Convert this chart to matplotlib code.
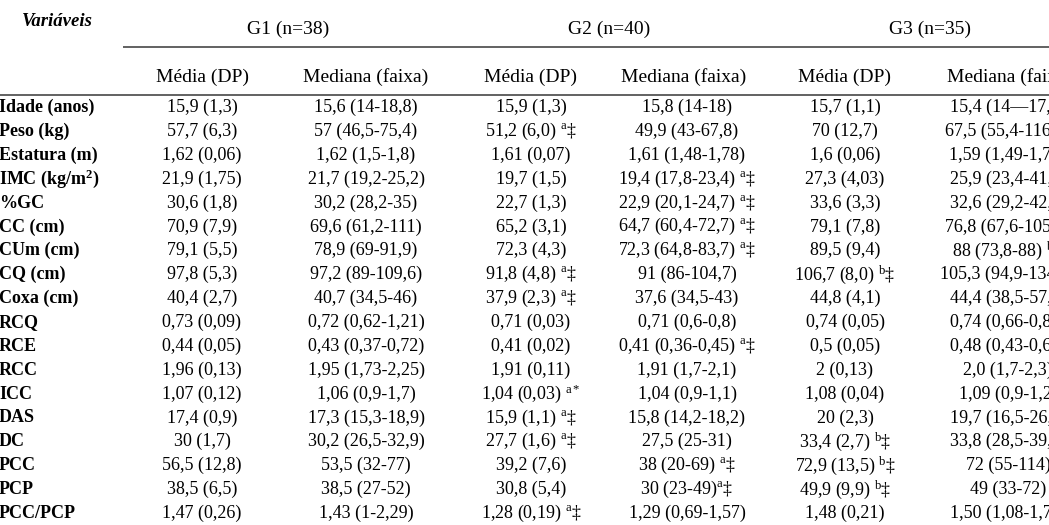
import matplotlib
matplotlib.use("Agg")
import matplotlib.pyplot as plt

plt.rcParams['font.family'] = ['Liberation Serif', 'DejaVu Serif']
plt.rcParams['mathtext.fontset'] = 'custom'
plt.rcParams['mathtext.rm'] = 'Liberation Serif'
plt.rcParams['mathtext.it'] = 'Liberation Serif:italic'
plt.rcParams['mathtext.bf'] = 'Liberation Serif:bold'

variables = ["Idade (anos)", "Peso (kg)", "Estatura (m)", r"IMC (kg/m$^{\mathbf{2}}$)", "%GC",
             "CC (cm)", "CUm (cm)", "CQ (cm)", "Coxa (cm)", "RCQ", "RCE", "RCC", "ICC",
             "DAS", "DC", "PCC", "PCP", "PCC/PCP"]

groups = ["G1 (n=38)", "G2 (n=40)", "G3 (n=35)"]
subheaders = ["Média (DP)", "Mediana (faixa)"]

g1_media = ["15,9 (1,3)", "57,7 (6,3)", "1,62 (0,06)", "21,9 (1,75)", "30,6 (1,8)", "70,9 (7,9)",
            "79,1 (5,5)", "97,8 (5,3)", "40,4 (2,7)", "0,73 (0,09)", "0,44 (0,05)", "1,96 (0,13)",
            "1,07 (0,12)", "17,4 (0,9)", "30 (1,7)", "56,5 (12,8)", "38,5 (6,5)", "1,47 (0,26)"]
g1_mediana = ["15,6 (14-18,8)", "57 (46,5-75,4)", "1,62 (1,5-1,8)", "21,7 (19,2-25,2)",
              "30,2 (28,2-35)", "69,6 (61,2-111)", "78,9 (69-91,9)", "97,2 (89-109,6)",
              "40,7 (34,5-46)", "0,72 (0,62-1,21)", "0,43 (0,37-0,72)", "1,95 (1,73-2,25)",
              "1,06 (0,9-1,7)", "17,3 (15,3-18,9)", "30,2 (26,5-32,9)", "53,5 (32-77)",
              "38,5 (27-52)", "1,43 (1-2,29)"]
g2_media = ["15,9 (1,3)", "51,2 (6,0)", "1,61 (0,07)", "19,7 (1,5)", "22,7 (1,3)", "65,2 (3,1)",
            "72,3 (4,3)", "91,8 (4,8)", "37,9 (2,3)", "0,71 (0,03)", "0,41 (0,02)", "1,91 (0,11)",
            "1,04 (0,03)", "15,9 (1,1)", "27,7 (1,6)", "39,2 (7,6)", "30,8 (5,4)", "1,28 (0,19)"]
g2_media_sup = ["", "a‡", "", "", "", "", "", "a‡", "a‡", "", "", "", "a*", "a‡", "a‡", "", "", "a‡"]
g2_mediana = ["15,8 (14-18)", "49,9 (43-67,8)", "1,61 (1,48-1,78)", "19,4 (17,8-23,4)",
              "22,9 (20,1-24,7)", "64,7 (60,4-72,7)", "72,3 (64,8-83,7)", "91 (86-104,7)",
              "37,6 (34,5-43)", "0,71 (0,6-0,8)", "0,41 (0,36-0,45)", "1,91 (1,7-2,1)",
              "1,04 (0,9-1,1)", "15,8 (14,2-18,2)", "27,5 (25-31)", "38 (20-69)",
              "30 (23-49)", "1,29 (0,69-1,57)"]
g2_mediana_sup = ["", "", "", "a‡", "a‡", "a‡", "a‡", "", "", "", "a‡", "", "", "", "", "a‡", "a‡", ""]
g3_media = ["15,7 (1,1)", "70 (12,7)", "1,6 (0,06)", "27,3 (4,03)", "33,6 (3,3)", "79,1 (7,8)",
            "89,5 (9,4)", "106,7 (8,0)", "44,8 (4,1)", "0,74 (0,05)", "0,5 (0,05)", "2 (0,13)",
            "1,08 (0,04)", "20 (2,3)", "33,4 (2,7)", "72,9 (13,5)", "49,9 (9,9)", "1,48 (0,21)"]
g3_media_sup = ["", "", "", "", "", "", "", "b‡", "", "", "", "", "", "", "b‡", "b‡", "b‡", ""]
g3_mediana = ["15,4 (14—17,9)", "67,5 (55,4-116,2)", "1,59 (1,49-1,75)", "25,9 (23,4-41,4)",
              "32,6 (29,2-42,4)", "76,8 (67,6-105,5)", "88 (73,8-88)", "105,3 (94,9-134,5)",
              "44,4 (38,5-57,9)", "0,74 (0,66-0,85)", "0,48 (0,43-0,63)", "2,0 (1,7-2,3)",
              "1,09 (0,9-1,2)", "19,7 (16,5-26,3)", "33,8 (28,5-39,5)", "72 (55-114)",
              "49 (33-72)", "1,50 (1,08-1,75)"]
g3_mediana_sup = ["", "", "", "", "", "", "b‡", "", "", "", "", "", "", "", "", "", "", ""]


def fmt(val, sup):
    if not sup:
        return val
    s = sup[0]
    rest = sup[1:]
    if rest == "*":
        return val + r" $^{\mathrm{" + s + "*}}$"
    sep = "" if val == "30 (23-49)" else " "
    return val + sep + r"$^{\mathrm{" + s + "}}$" + rest


W, H = 1049, 525
fig = plt.figure(figsize=(W / 100, H / 100), dpi=100)
ax = fig.add_axes([0, 0, 1, 1])
ax.set_xlim(0, W)
ax.set_ylim(H, 0)
ax.axis('off')

fs = 13
fh = 14
col_x = [202, 366, 531, 687, 845, 1008]
head_x = [202, 366, 531, 684, 844, 1010]
group_x = [288, 609, 930]
row_y0, row_dy = 107.5, 23.88

ax.text(57, 22, "Variáveis", fontsize=13.5, fontweight='bold', fontstyle='italic',
        ha='center', va='center')
for gx, g in zip(group_x, groups):
    ax.text(gx, 29, g, fontsize=fh, ha='center', va='center')
for i, hx in enumerate(head_x):
    ax.text(hx, 77, subheaders[i % 2], fontsize=fh, ha='center', va='center')

ax.plot([123, W], [46.5, 46.5], color='#555555', lw=1.3, solid_capstyle='butt')
ax.plot([0, W], [95, 95], color='#555555', lw=1.3, solid_capstyle='butt')

cols = [
    (g1_media, [""] * 18),
    (g1_mediana, [""] * 18),
    (g2_media, g2_media_sup),
    (g2_mediana, g2_mediana_sup),
    (g3_media, g3_media_sup),
    (g3_mediana, g3_mediana_sup),
]

for r, name in enumerate(variables):
    y = row_y0 + r * row_dy
    ax.text(-1, y, name, fontsize=fs, fontweight='bold', ha='left', va='center')
    for (vals, sups), cx in zip(cols, col_x):
        ax.text(cx, y, fmt(vals[r], sups[r]), fontsize=fs, ha='center', va='center')

fig.savefig("out.png", dpi=100)
